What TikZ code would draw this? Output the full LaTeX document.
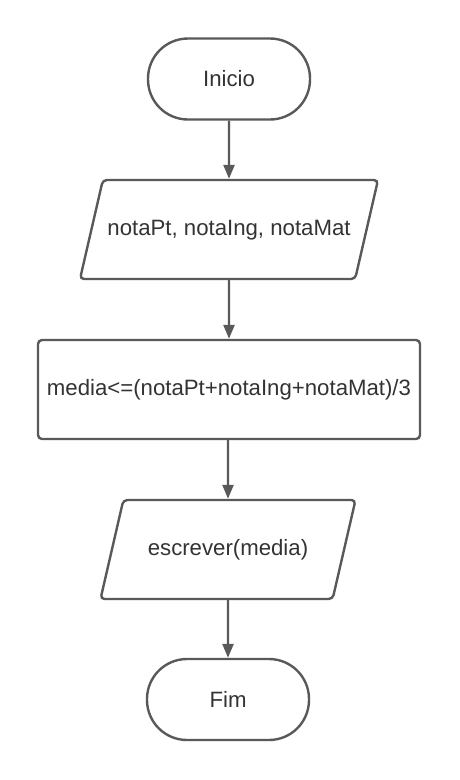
\documentclass[tikz,border=0pt]{standalone}
\usepackage{fontspec}
\setmainfont{Liberation Sans}
\usetikzlibrary{shapes.geometric,arrows.meta}
\definecolor{linegray}{HTML}{595959}
\definecolor{textgray}{HTML}{333333}

\begin{document}
\begin{tikzpicture}[x=1pt,y=1pt,
    every node/.style={draw=linegray,line width=2.4pt,text=textgray,
        font=\fontsize{22.2}{26}\selectfont},
    terminal/.style={rectangle,rounded corners=40pt,minimum width=162pt,minimum height=81pt},
    inout/.style={trapezium,trapezium left angle=77,trapezium right angle=103,
        trapezium stretches body=true,rounded corners=4pt,
        text height=16pt,text depth=5pt,inner ysep=39pt},
    process/.style={rectangle,rounded corners=4pt,minimum width=382pt,minimum height=99pt},
    flow/.style={draw=linegray,line width=2.4pt,-{Triangle[length=14pt,width=11pt]}}]
                \useasboundingbox (0,0) rectangle (460,-780);
                \node[terminal] (inicio) at (229,-79) {Inicio};
                \node[inout,minimum width=298pt] (notas) at (229,-229.5) {notaPt, notaIng, notaMat};
                \node[process] (media) at (229,-389.5) {media<=(notaPt+notaIng+notaMat)/3};
                \node[inout,minimum width=255pt] (escrever) at (228,-549.5) {escrever(media)};
                \node[terminal] (fim) at (228,-699.5) {Fim};
                \draw[flow] (inicio) -- (notas);
                \draw[flow] (notas) -- (media);
                \draw[flow] (media.south -| escrever) -- (escrever);
                \draw[flow] (escrever) -- (fim);
\end{tikzpicture}
\end{document}
